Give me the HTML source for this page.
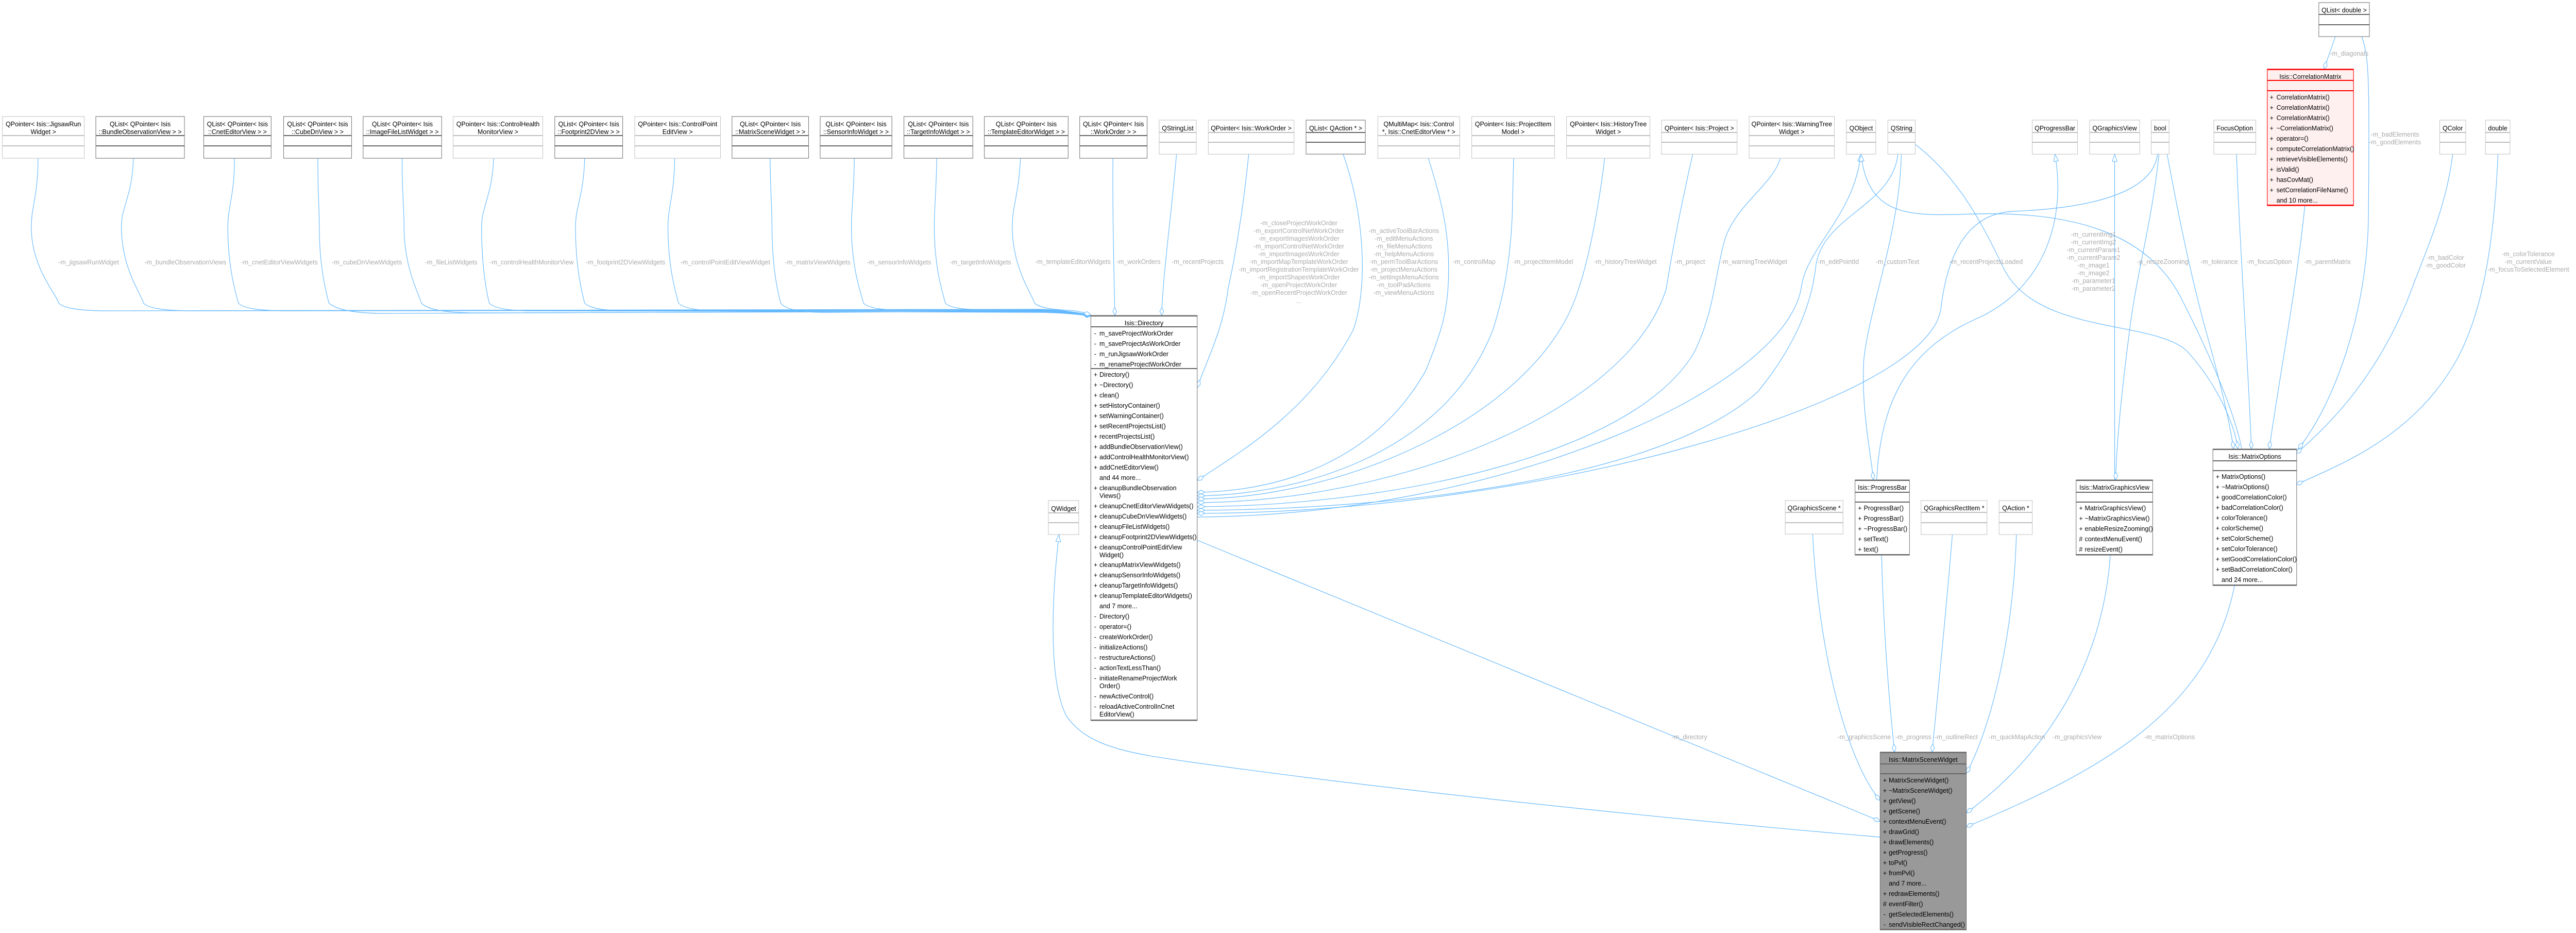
<!DOCTYPE html>
<html><head><meta charset="utf-8"><style>
html,body{margin:0;padding:0;background:#fff;width:100%;height:100%;overflow:hidden}
svg{display:block;width:100vw;height:100vh}
.t{font-family:"Liberation Sans",Arial,Helvetica,sans-serif;font-size:13.33px;fill:#000}
.l{font-family:"Liberation Sans",Arial,Helvetica,sans-serif;font-size:13.33px;fill:#ababab}
.c{text-anchor:middle}
.e{fill:none;stroke:#63b8ff;stroke-width:1.2}
.d{marker-end:url(#dia)}
.i{marker-start:url(#tri)}
.g{fill:#fff;stroke:#bfbfbf;stroke-width:1}
.gd{fill:none;stroke:#bfbfbf;stroke-width:2}
.k{fill:#fff;stroke:#666;stroke-width:1}
.kd{fill:none;stroke:#666;stroke-width:2}
</style></head><body>
<svg viewBox="0 0 5349 1810" preserveAspectRatio="none" xmlns="http://www.w3.org/2000/svg">
<defs>
<marker id="dia" markerUnits="userSpaceOnUse" markerWidth="18" markerHeight="10" refX="16.5" refY="4.5" orient="auto"><path d="M0.5,4.5 L8.5,0.5 L16.5,4.5 L8.5,8.5 Z" fill="#fff" stroke="#63b8ff" stroke-width="1.1"/></marker>
<marker id="tri" markerUnits="userSpaceOnUse" markerWidth="16" markerHeight="12" refX="14.5" refY="5.5" orient="auto-start-reverse"><path d="M0.5,0.5 L14.5,5.5 L0.5,10.5 Z" fill="#fff" stroke="#63b8ff" stroke-width="1.1"/></marker>
</defs>
<rect x="0" y="0" width="5349" height="1810" fill="#fff"/>

<!-- ============ EDGES ============ -->
<g class="e">
<path class="d" d="M79,307 C79,380 65,400 65,440 C65,520 117,570 122,588 C132,598 162,602 212,603 L2150,600 C2200,600 2240,607 2265,611"/>
<path class="d" d="M277,307 C275,380 252,400 252,440 C252,520 293,570 298,588 C308,598 338,602 388,603 L2150,601 C2200,601 2240,608 2265,611"/>
<path class="d" d="M487,307 C487,380 473,400 473,440 C473,520 490,570 495,588 C505,598 535,602 585,603 L2150,602 C2200,602 2240,608 2265,612"/>
<path class="d" d="M660,307 C660,380 663,400 663,440 C663,520 678,570 683,588 C700,602 740,608 800,608 L2150,603 C2200,603 2240,609 2265,612"/>
<path class="d" d="M835,307 C835,380 839,400 839,440 C839,520 870,570 875,588 C890,602 930,607 990,607 L2150,604 C2200,604 2240,609 2265,612"/>
<path class="d" d="M1025,307 C1022,380 1000,400 1000,440 C1000,520 1011,570 1016,588 C1026,598 1056,603 1106,603 L2150,605 C2200,605 2240,610 2265,612"/>
<path class="d" d="M1214,307 C1212,380 1195,400 1195,440 C1195,520 1209,570 1214,588 C1224,598 1254,603 1304,603 L2150,606 C2200,606 2240,610 2265,613"/>
<path class="d" d="M1401,307 C1400,380 1387,400 1387,440 C1387,520 1404,570 1409,588 C1419,598 1449,603 1499,603 L2150,602 C2200,602 2240,609 2265,612"/>
<path class="d" d="M1599,307 C1600,380 1603,400 1603,440 C1603,520 1616,570 1621,588 C1631,600 1661,606 1711,606 L2150,603 C2200,603 2240,609 2265,612"/>
<path class="d" d="M1774,307 C1773,380 1768,400 1768,440 C1768,520 1788,570 1793,588 C1803,598 1833,602 1883,602 L2150,601 C2200,601 2240,608 2265,611"/>
<path class="d" d="M1945,307 C1944,380 1940,400 1940,440 C1940,520 1958,570 1963,588 C1973,598 2003,601 2053,601 L2150,600 C2200,600 2240,607 2265,611"/>
<path class="d" d="M2119,307 C2115,380 2102,400 2102,440 C2102,520 2143,570 2148,588 C2160,598 2190,601 2220,602 C2240,603 2255,608 2265,611"/>

<path class="d" d="M2311,307 C2310,420 2313,520 2315,612"/>
<path class="d" d="M2443,299 C2432,420 2415,530 2412,612"/>
<path class="d" d="M2593,299 C2580,420 2560,520 2550,560 C2540,640 2505,700 2486,752"/>
<path class="d" d="M2789,299 C2835,420 2840,560 2810,640 C2720,800 2570,880 2486,932"/>
<path class="d" d="M2966,307 C2990,380 3008,440 3008,520 C3008,600 2995,640 2960,720 C2850,900 2650,953 2486,955"/>
<path class="d" d="M3143,307 L3140,420 C3135,520 3120,580 3100,640 C3000,880 2700,960 2486,962"/>
<path class="d" d="M3332,307 C3320,400 3300,500 3278,560 C3200,800 2800,966 2486,968"/>
<path class="d" d="M3515,299 C3490,400 3470,500 3460,560 C3380,800 2900,973 2486,975"/>
<path class="d" d="M3697,307 C3680,360 3600,400 3580,470 C3560,540 3560,600 3520,680 C3400,880 2900,981 2486,983"/>
<path class="d" d="M3941,299 C3930,400 3780,420 3770,520 C3760,600 3720,680 3650,760 C3450,930 2900,988 2486,990"/>
<path class="d" d="M4480,299 C4470,380 4320,405 4180,410 C4070,415 4040,520 4030,600 C4000,780 3200,994 2486,996"/>
<path class="i" d="M3864,299 C3850,420 3750,480 3740,560 C3700,760 3100,1000 2486,1003"/>

<path class="d" d="M3948,299 C3945,450 3880,600 3870,700 C3865,800 3885,880 3890,931"/>
<path class="i" d="M4267,299 C4290,420 4250,560 4100,620 C3960,680 3905,780 3897,931"/>
<path class="i" d="M4391,299 L4391,931"/>
<path class="d" d="M4483,299 C4470,420 4440,520 4425,620 C4405,760 4395,860 4393,931"/>
<path class="d" d="M4644,299 C4652,500 4668,700 4675,871"/>
<path class="d" d="M4786,399 C4770,550 4730,750 4712,871"/>
<path class="d" d="M4904,71 C4920,110 4920,160 4918,420 C4916,600 4850,780 4772,871"/>
<path class="d" d="M5093,299 C5080,400 5040,480 5000,580 C4930,740 4830,830 4768,880"/>
<path class="d" d="M5187,299 C5180,450 5160,600 5100,700 C5010,850 4850,905 4768,940"/>
<path class="d" d="M4500,299 C4520,400 4545,520 4580,640 C4610,740 4630,820 4638,871"/>
<path class="d" d="M3977,280 C4060,340 4110,420 4160,520 C4230,650 4470,620 4540,680 C4600,740 4640,820 4647,871"/>
<path class="i" d="M3864,299 C3880,420 3960,420 4100,415 C4300,410 4460,450 4530,580 C4590,690 4640,800 4655,871"/>
<path class="d" d="M4849,71 C4843,90 4834,110 4826,134"/>

<path class="d" d="M2486,1048 L3904,1593"/>
<path class="i" d="M2199,1037 C2185,1150 2175,1320 2215,1390 C2260,1450 2350,1462 2470,1478 C2900,1535 3500,1592 3904,1624"/>
<path class="d" d="M3764,1036 C3775,1250 3830,1470 3904,1553"/>
<path class="d" d="M3907,1077 C3912,1250 3925,1380 3934,1459"/>
<path class="d" d="M4054,1037 C4040,1200 4020,1380 4012,1459"/>
<path class="d" d="M4187,1037 C4180,1250 4130,1420 4083,1500"/>
<path class="d" d="M4382,1077 C4365,1300 4240,1470 4083,1577"/>
<path class="d" d="M4640,1136 C4590,1370 4380,1490 4083,1604"/>
</g>

<!-- ============ EDGE LABELS ============ -->
<g class="l c">
<text x="184" y="513">-m_jigsawRunWidget</text>
<text x="385" y="513">-m_bundleObservationViews</text>
<text x="580" y="513">-m_cnetEditorViewWidgets</text>
<text x="762" y="513">-m_cubeDnViewWidgets</text>
<text x="937" y="513">-m_fileListWidgets</text>
<text x="1104" y="513">-m_controlHealthMonitorView</text>
<text x="1299" y="513">-m_footprint2DViewWidgets</text>
<text x="1506" y="513">-m_controlPointEditViewWidget</text>
<text x="1698" y="513">-m_matrixViewWidgets</text>
<text x="1867" y="513">-m_sensorInfoWidgets</text>
<text x="2036" y="513">-m_targetInfoWidgets</text>
<text x="2228" y="512">-m_templateEditorWidgets</text>
<text x="2364" y="512">-m_workOrders</text>
<text x="2487" y="512">-m_recentProjects</text>

<text x="2697" y="437">-m_closeProjectWorkOrder</text>
<text x="2697" y="452">-m_exportControlNetWorkOrder</text>
<text x="2697" y="467">-m_exportImagesWorkOrder</text>
<text x="2697" y="482">-m_importControlNetWorkOrder</text>
<text x="2697" y="497">-m_importImagesWorkOrder</text>
<text x="2697" y="512">-m_importMapTemplateWorkOrder</text>
<text x="2697" y="527">-m_importRegistrationTemplateWorkOrder</text>
<text x="2697" y="542">-m_importShapesWorkOrder</text>
<text x="2697" y="557">-m_openProjectWorkOrder</text>
<text x="2697" y="572">-m_openRecentProjectWorkOrder</text>
<text x="2697" y="588">...</text>

<text x="2915" y="452">-m_activeToolBarActions</text>
<text x="2915" y="467">-m_editMenuActions</text>
<text x="2915" y="482">-m_fileMenuActions</text>
<text x="2915" y="497">-m_helpMenuActions</text>
<text x="2915" y="512">-m_permToolBarActions</text>
<text x="2915" y="527">-m_projectMenuActions</text>
<text x="2915" y="542">-m_settingsMenuActions</text>
<text x="2915" y="557">-m_toolPadActions</text>
<text x="2915" y="572">-m_viewMenuActions</text>

<text x="3061" y="512">-m_controlMap</text>
<text x="3204" y="512">-m_projectItemModel</text>
<text x="3375" y="512">-m_historyTreeWidget</text>
<text x="3509" y="512">-m_project</text>
<text x="3642" y="512">-m_warningTreeWidget</text>
<text x="3817" y="512">-m_editPointId</text>
<text x="3940" y="512">-m_customText</text>
<text x="4124" y="512">-m_recentProjectsLoaded</text>

<text x="4347" y="459">-m_currentImg1</text>
<text x="4347" y="474">-m_currentImg2</text>
<text x="4347" y="489">-m_currentParam1</text>
<text x="4347" y="504">-m_currentParam2</text>
<text x="4347" y="519">-m_image1</text>
<text x="4347" y="534">-m_image2</text>
<text x="4347" y="549">-m_parameter1</text>
<text x="4347" y="564">-m_parameter2</text>

<text x="4491" y="512">-p_resizeZooming</text>
<text x="4608" y="512">-m_tolerance</text>
<text x="4712" y="512">-m_focusOption</text>
<text x="4833" y="512">-m_parentMatrix</text>
<text x="5078" y="504">-m_badColor</text>
<text x="5078" y="519">-m_goodColor</text>
<text x="5250" y="497">-m_colorTolerance</text>
<text x="5250" y="512">-m_currentValue</text>
<text x="5250" y="527">-m_focusToSelectedElement</text>
<text x="4878" y="108">-m_diagonals</text>
<text x="4973" y="265">-m_badElements</text>
<text x="4973" y="280">-m_goodElements</text>

<text x="3508" y="1434">-m_directory</text>
<text x="3871" y="1434">-m_graphicsScene</text>
<text x="3973" y="1434">-m_progress</text>
<text x="4062" y="1434">-m_outlineRect</text>
<text x="4188" y="1434">-m_quickMapAction</text>
<text x="4313" y="1434">-m_graphicsView</text>
<text x="4505" y="1434">-m_matrixOptions</text>
</g>

<!-- ============ SIMPLE BOXES ============ -->
<g>
<rect class="g" x="5" y="226" width="170" height="81"/><path class="gd" d="M5,263H175M5,283H175"/>
<rect class="k" x="199" y="226" width="184" height="81"/><path class="kd" d="M199,263H383M199,283H383"/>
<rect class="k" x="423" y="226" width="140" height="81"/><path class="kd" d="M423,263H563M423,283H563"/>
<rect class="k" x="589" y="226" width="141" height="81"/><path class="kd" d="M589,263H730M589,283H730"/>
<rect class="k" x="754" y="226" width="163" height="81"/><path class="kd" d="M754,263H917M754,283H917"/>
<rect class="g" x="941" y="226" width="186" height="81"/><path class="gd" d="M941,263H1127M941,283H1127"/>
<rect class="k" x="1152" y="226" width="141" height="81"/><path class="kd" d="M1152,263H1293M1152,283H1293"/>
<rect class="g" x="1318" y="226" width="178" height="81"/><path class="gd" d="M1318,263H1496M1318,283H1496"/>
<rect class="k" x="1520" y="226" width="159" height="81"/><path class="kd" d="M1520,263H1679M1520,283H1679"/>
<rect class="k" x="1703" y="226" width="149" height="81"/><path class="kd" d="M1703,263H1852M1703,283H1852"/>
<rect class="k" x="1877" y="226" width="143" height="81"/><path class="kd" d="M1877,263H2020M1877,283H2020"/>
<rect class="k" x="2044" y="226" width="174" height="81"/><path class="kd" d="M2044,263H2218M2044,283H2218"/>
<rect class="k" x="2242" y="226" width="140" height="81"/><path class="kd" d="M2242,263H2382M2242,283H2382"/>
<rect class="g" x="2861" y="226" width="170" height="81"/><path class="gd" d="M2861,263H3031M2861,283H3031"/>
<rect class="g" x="3056" y="226" width="172" height="81"/><path class="gd" d="M3056,263H3228M3056,283H3228"/>
<rect class="g" x="3253" y="226" width="173" height="81"/><path class="gd" d="M3253,263H3426M3253,283H3426"/>
<rect class="g" x="3632" y="226" width="177" height="81"/><path class="gd" d="M3632,263H3809M3632,283H3809"/>
<rect class="g" x="2407" y="233" width="77" height="66"/><path class="gd" d="M2407,257H2484M2407,276H2484"/>
<rect class="g" x="2509" y="233" width="178" height="66"/><path class="gd" d="M2509,257H2687M2509,276H2687"/>
<rect class="k" x="2712" y="233" width="123" height="66"/><path class="kd" d="M2712,257H2835M2712,276H2835"/>
<rect class="g" x="3450" y="233" width="157" height="66"/><path class="gd" d="M3450,257H3607M3450,276H3607"/>
<rect class="g" x="3834" y="233" width="61" height="66"/><path class="gd" d="M3834,257H3895M3834,276H3895"/>
<rect class="g" x="3920" y="233" width="57" height="66"/><path class="gd" d="M3920,257H3977M3920,276H3977"/>
<rect class="g" x="4220" y="233" width="94" height="66"/><path class="gd" d="M4220,257H4314M4220,276H4314"/>
<rect class="g" x="4339" y="233" width="104" height="66"/><path class="gd" d="M4339,257H4443M4339,276H4443"/>
<rect class="g" x="4467" y="233" width="37" height="66"/><path class="gd" d="M4467,257H4504M4467,276H4504"/>
<rect class="g" x="4597" y="233" width="87" height="66"/><path class="gd" d="M4597,257H4684M4597,276H4684"/>
<rect class="g" x="5066" y="233" width="54" height="66"/><path class="gd" d="M5066,257H5120M5066,276H5120"/>
<rect class="g" x="5161" y="233" width="51" height="66"/><path class="gd" d="M5161,257H5212M5161,276H5212"/>
<rect class="k" x="4815" y="5" width="105" height="66"/><path class="kd" d="M4815,28H4920M4815,48H4920"/>
<rect class="g" x="2177" y="971" width="63" height="66"/><path class="gd" d="M2177,995H2240M2177,1014H2240"/>
<rect class="g" x="3707" y="971" width="120" height="65"/><path class="gd" d="M3707,994H3827M3707,1014H3827"/>
<rect class="g" x="3989" y="971" width="137" height="66"/><path class="gd" d="M3989,994H4126M3989,1014H4126"/>
<rect class="g" x="4151" y="971" width="69" height="66"/><path class="gd" d="M4151,994H4220M4151,1014H4220"/>
</g>

<g class="t c">
<text x="90" y="245">QPointer&lt; Isis::JigsawRun</text><text x="90" y="260">Widget &gt;</text>
<text x="291" y="245">QList&lt; QPointer&lt; Isis</text><text x="291" y="260">::BundleObservationView &gt; &gt;</text>
<text x="493" y="245">QList&lt; QPointer&lt; Isis</text><text x="493" y="260">::CnetEditorView &gt; &gt;</text>
<text x="659.5" y="245">QList&lt; QPointer&lt; Isis</text><text x="659.5" y="260">::CubeDnView &gt; &gt;</text>
<text x="835.5" y="245">QList&lt; QPointer&lt; Isis</text><text x="835.5" y="260">::ImageFileListWidget &gt; &gt;</text>
<text x="1034" y="245">QPointer&lt; Isis::ControlHealth</text><text x="1034" y="260">MonitorView &gt;</text>
<text x="1222.5" y="245">QList&lt; QPointer&lt; Isis</text><text x="1222.5" y="260">::Footprint2DView &gt; &gt;</text>
<text x="1407" y="245">QPointer&lt; Isis::ControlPoint</text><text x="1407" y="260">EditView &gt;</text>
<text x="1599.5" y="245">QList&lt; QPointer&lt; Isis</text><text x="1599.5" y="260">::MatrixSceneWidget &gt; &gt;</text>
<text x="1777.5" y="245">QList&lt; QPointer&lt; Isis</text><text x="1777.5" y="260">::SensorInfoWidget &gt; &gt;</text>
<text x="1948.5" y="245">QList&lt; QPointer&lt; Isis</text><text x="1948.5" y="260">::TargetInfoWidget &gt; &gt;</text>
<text x="2131" y="245">QList&lt; QPointer&lt; Isis</text><text x="2131" y="260">::TemplateEditorWidget &gt; &gt;</text>
<text x="2312" y="245">QList&lt; QPointer&lt; Isis</text><text x="2312" y="260">::WorkOrder &gt; &gt;</text>
<text x="2946" y="245">QMultiMap&lt; Isis::Control</text><text x="2946" y="260">*, Isis::CnetEditorView * &gt;</text>
<text x="3142" y="245">QPointer&lt; Isis::ProjectItem</text><text x="3142" y="260">Model &gt;</text>
<text x="3339.5" y="245">QPointer&lt; Isis::HistoryTree</text><text x="3339.5" y="260">Widget &gt;</text>
<text x="3720.5" y="245">QPointer&lt; Isis::WarningTree</text><text x="3720.5" y="260">Widget &gt;</text>
<text x="2445.5" y="253">QStringList</text>
<text x="2598" y="253">QPointer&lt; Isis::WorkOrder &gt;</text>
<text x="2773.5" y="253">QList&lt; QAction * &gt;</text>
<text x="3528.5" y="253">QPointer&lt; Isis::Project &gt;</text>
<text x="3864.5" y="253">QObject</text>
<text x="3948.5" y="253">QString</text>
<text x="4267" y="253">QProgressBar</text>
<text x="4391" y="253">QGraphicsView</text>
<text x="4485.5" y="253">bool</text>
<text x="4640.5" y="253">FocusOption</text>
<text x="5093" y="253">QColor</text>
<text x="5186.5" y="253">double</text>
<text x="4867.5" y="24">QList&lt; double &gt;</text>
<text x="2208.5" y="991">QWidget</text>
<text x="3767" y="990">QGraphicsScene *</text>
<text x="4057.5" y="990">QGraphicsRectItem *</text>
<text x="4185.5" y="990">QAction *</text>
</g>

<!-- ============ Isis::Directory ============ -->
<rect class="k" x="2265" y="612" width="221" height="786"/>
<path class="kd" d="M2265,613H2486M2265,634H2486M2265,715H2486M2265,1397H2486"/>
<text class="t c" x="2375.5" y="631">Isis::Directory</text>
<g class="t">
<text x="2272" y="651">-</text><text x="2283" y="651">m_saveProjectWorkOrder</text>
<text x="2272" y="671">-</text><text x="2283" y="671">m_saveProjectAsWorkOrder</text>
<text x="2272" y="691">-</text><text x="2283" y="691">m_runJigsawWorkOrder</text>
<text x="2272" y="711">-</text><text x="2283" y="711">m_renameProjectWorkOrder</text>
<text x="2271" y="731">+</text><text x="2283" y="731">Directory()</text>
<text x="2271" y="751">+</text><text x="2283" y="751">~Directory()</text>
<text x="2271" y="771">+</text><text x="2283" y="771">clean()</text>
<text x="2271" y="791">+</text><text x="2283" y="791">setHistoryContainer()</text>
<text x="2271" y="811">+</text><text x="2283" y="811">setWarningContainer()</text>
<text x="2271" y="831">+</text><text x="2283" y="831">setRecentProjectsList()</text>
<text x="2271" y="851">+</text><text x="2283" y="851">recentProjectsList()</text>
<text x="2271" y="871">+</text><text x="2283" y="871">addBundleObservationView()</text>
<text x="2271" y="891">+</text><text x="2283" y="891">addControlHealthMonitorView()</text>
<text x="2271" y="911">+</text><text x="2283" y="911">addCnetEditorView()</text>
<text x="2283" y="931">and 44 more...</text>
<text x="2271" y="951">+</text><text x="2283" y="951">cleanupBundleObservation</text>
<text x="2283" y="966">Views()</text>
<text x="2271" y="986">+</text><text x="2283" y="986">cleanupCnetEditorViewWidgets()</text>
<text x="2271" y="1006">+</text><text x="2283" y="1006">cleanupCubeDnViewWidgets()</text>
<text x="2271" y="1026">+</text><text x="2283" y="1026">cleanupFileListWidgets()</text>
<text x="2271" y="1046">+</text><text x="2283" y="1046">cleanupFootprint2DViewWidgets()</text>
<text x="2271" y="1066">+</text><text x="2283" y="1066">cleanupControlPointEditView</text>
<text x="2283" y="1081">Widget()</text>
<text x="2271" y="1100">+</text><text x="2283" y="1100">cleanupMatrixViewWidgets()</text>
<text x="2271" y="1120">+</text><text x="2283" y="1120">cleanupSensorInfoWidgets()</text>
<text x="2271" y="1140">+</text><text x="2283" y="1140">cleanupTargetInfoWidgets()</text>
<text x="2271" y="1160">+</text><text x="2283" y="1160">cleanupTemplateEditorWidgets()</text>
<text x="2283" y="1180">and 7 more...</text>
<text x="2272" y="1200">-</text><text x="2283" y="1200">Directory()</text>
<text x="2272" y="1220">-</text><text x="2283" y="1220">operator=()</text>
<text x="2272" y="1240">-</text><text x="2283" y="1240">createWorkOrder()</text>
<text x="2272" y="1260">-</text><text x="2283" y="1260">initializeActions()</text>
<text x="2272" y="1280">-</text><text x="2283" y="1280">restructureActions()</text>
<text x="2272" y="1300">-</text><text x="2283" y="1300">actionTextLessThan()</text>
<text x="2272" y="1320">-</text><text x="2283" y="1320">initiateRenameProjectWork</text>
<text x="2283" y="1335">Order()</text>
<text x="2272" y="1355">-</text><text x="2283" y="1355">newActiveControl()</text>
<text x="2272" y="1375">-</text><text x="2283" y="1375">reloadActiveControlInCnet</text>
<text x="2283" y="1390">EditorView()</text>
</g>

<!-- ============ Isis::CorrelationMatrix ============ -->
<rect x="4708" y="134" width="179" height="265" fill="#fff0f0" stroke="#ff0000" stroke-width="1.2"/>
<path fill="none" stroke="#ff0000" stroke-width="2" d="M4708,135H4887M4708,156H4887M4708,176H4887M4708,398H4887"/>
<text class="t c" x="4797.5" y="153">Isis::CorrelationMatrix</text>
<g class="t">
<text x="4713" y="193">+</text><text x="4727" y="193">CorrelationMatrix()</text>
<text x="4713" y="213">+</text><text x="4727" y="213">CorrelationMatrix()</text>
<text x="4713" y="233">+</text><text x="4727" y="233">CorrelationMatrix()</text>
<text x="4713" y="253">+</text><text x="4727" y="253">~CorrelationMatrix()</text>
<text x="4713" y="273">+</text><text x="4727" y="273">operator=()</text>
<text x="4713" y="293">+</text><text x="4727" y="293">computeCorrelationMatrix()</text>
<text x="4713" y="313">+</text><text x="4727" y="313">retrieveVisibleElements()</text>
<text x="4713" y="333">+</text><text x="4727" y="333">isValid()</text>
<text x="4713" y="353">+</text><text x="4727" y="353">hasCovMat()</text>
<text x="4713" y="373">+</text><text x="4727" y="373">setCorrelationFileName()</text>
<text x="4727" y="393">and 10 more...</text>
</g>

<!-- ============ Isis::ProgressBar ============ -->
<rect class="k" x="3852" y="931" width="113" height="146"/>
<path class="kd" d="M3852,932H3965M3852,955H3965M3852,974H3965M3852,1076H3965"/>
<text class="t c" x="3908.5" y="950">Isis::ProgressBar</text>
<g class="t">
<text x="3858" y="990">+</text><text x="3870" y="990">ProgressBar()</text>
<text x="3858" y="1010">+</text><text x="3870" y="1010">ProgressBar()</text>
<text x="3858" y="1030">+</text><text x="3870" y="1030">~ProgressBar()</text>
<text x="3858" y="1050">+</text><text x="3870" y="1050">setText()</text>
<text x="3858" y="1070">+</text><text x="3870" y="1070">text()</text>
</g>

<!-- ============ Isis::MatrixGraphicsView ============ -->
<rect class="k" x="4311" y="931" width="159" height="146"/>
<path class="kd" d="M4311,932H4470M4311,955H4470M4311,974H4470M4311,1076H4470"/>
<text class="t c" x="4390.5" y="950">Isis::MatrixGraphicsView</text>
<g class="t">
<text x="4317" y="990">+</text><text x="4329" y="990">MatrixGraphicsView()</text>
<text x="4317" y="1010">+</text><text x="4329" y="1010">~MatrixGraphicsView()</text>
<text x="4317" y="1030">+</text><text x="4329" y="1030">enableResizeZooming()</text>
<text x="4317" y="1050">#</text><text x="4329" y="1050">contextMenuEvent()</text>
<text x="4317" y="1070">#</text><text x="4329" y="1070">resizeEvent()</text>
</g>

<!-- ============ Isis::MatrixOptions ============ -->
<rect class="k" x="4595" y="871" width="174" height="265"/>
<path class="kd" d="M4595,872H4769M4595,894H4769M4595,913H4769M4595,1135H4769"/>
<text class="t c" x="4682" y="890">Isis::MatrixOptions</text>
<g class="t">
<text x="4601" y="929">+</text><text x="4613" y="929">MatrixOptions()</text>
<text x="4601" y="949">+</text><text x="4613" y="949">~MatrixOptions()</text>
<text x="4601" y="969">+</text><text x="4613" y="969">goodCorrelationColor()</text>
<text x="4601" y="989">+</text><text x="4613" y="989">badCorrelationColor()</text>
<text x="4601" y="1009">+</text><text x="4613" y="1009">colorTolerance()</text>
<text x="4601" y="1029">+</text><text x="4613" y="1029">colorScheme()</text>
<text x="4601" y="1049">+</text><text x="4613" y="1049">setColorScheme()</text>
<text x="4601" y="1069">+</text><text x="4613" y="1069">setColorTolerance()</text>
<text x="4601" y="1089">+</text><text x="4613" y="1089">setGoodCorrelationColor()</text>
<text x="4601" y="1109">+</text><text x="4613" y="1109">setBadCorrelationColor()</text>
<text x="4613" y="1129">and 24 more...</text>
</g>

<!-- ============ Isis::MatrixSceneWidget ============ -->
<rect x="3904" y="1459" width="179" height="345" fill="#999999" stroke="#666" stroke-width="1"/>
<path class="kd" d="M3904,1460H4083M3904,1482H4083M3904,1501H4083M3904,1803H4083"/>
<text class="t c" x="3993.5" y="1478">Isis::MatrixSceneWidget</text>
<g class="t">
<text x="3910" y="1518">+</text><text x="3922" y="1518">MatrixSceneWidget()</text>
<text x="3910" y="1538">+</text><text x="3922" y="1538">~MatrixSceneWidget()</text>
<text x="3910" y="1558">+</text><text x="3922" y="1558">getView()</text>
<text x="3910" y="1578">+</text><text x="3922" y="1578">getScene()</text>
<text x="3910" y="1598">+</text><text x="3922" y="1598">contextMenuEvent()</text>
<text x="3910" y="1618">+</text><text x="3922" y="1618">drawGrid()</text>
<text x="3910" y="1638">+</text><text x="3922" y="1638">drawElements()</text>
<text x="3910" y="1658">+</text><text x="3922" y="1658">getProgress()</text>
<text x="3910" y="1678">+</text><text x="3922" y="1678">toPvl()</text>
<text x="3910" y="1698">+</text><text x="3922" y="1698">fromPvl()</text>
<text x="3922" y="1718">and 7 more...</text>
<text x="3910" y="1738">+</text><text x="3922" y="1738">redrawElements()</text>
<text x="3910" y="1758">#</text><text x="3922" y="1758">eventFilter()</text>
<text x="3911" y="1778">-</text><text x="3922" y="1778">getSelectedElements()</text>
<text x="3911" y="1798">-</text><text x="3922" y="1798">sendVisibleRectChanged()</text>
</g>
</svg>
</body></html>
